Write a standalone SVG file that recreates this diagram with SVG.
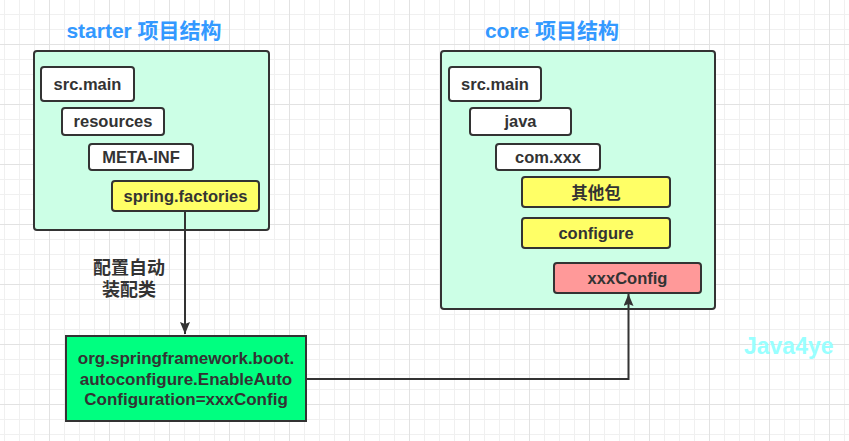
<svg xmlns="http://www.w3.org/2000/svg" width="849" height="441" viewBox="0 0 849 441">
<style>
.cont{fill:#ccffe6;stroke:#333;stroke-width:2}
.box{fill:#fff;stroke:#333;stroke-width:2}
.yel{fill:#ffff66;stroke:#333;stroke-width:2}
.pink{fill:#ff9999;stroke:#333;stroke-width:2}
.grn{fill:#00ff80;stroke:#333;stroke-width:2}
text{font-family:"Liberation Sans","Noto Sans CJK SC",sans-serif;font-weight:bold;fill:#333;text-anchor:middle}
.t{font-size:16.5px}
.g{font-size:17px}
.title{font-size:21px;fill:#3399ff}
.lbl{font-size:18px}
.wm{font-size:23px;fill:#99ffff;text-anchor:start}
.edge{fill:none;stroke:#333;stroke-width:2}
</style>
<defs>
<pattern id="minor" patternUnits="userSpaceOnUse" x="4" y="14" width="15" height="15">
<path d="M0.5,0V15M0,0.5H15" stroke="#f0f0f0" stroke-width="1" fill="none"/>
</pattern>
<pattern id="major" patternUnits="userSpaceOnUse" x="49" y="44" width="60" height="60">
<path d="M0.5,0V60M0,0.5H60" stroke="#e2e2e2" stroke-width="1" fill="none"/>
</pattern>
<marker id="arr" markerUnits="userSpaceOnUse" viewBox="0 0 12 10" refX="12" refY="5" markerWidth="12" markerHeight="10" orient="auto">
<path d="M0,0L12,5L0,10L2,5z" fill="#333"/>
</marker>
</defs>
<rect width="849" height="441" fill="#fff"/>
<rect width="849" height="441" fill="url(#minor)"/>
<rect width="849" height="441" fill="url(#major)"/>

<g id="starter">
<text class="title" x="144" y="38">starter 项目结构</text>
<rect class="cont" x="34" y="51" width="235" height="179" rx="3"/>
</g>
<g id="s-srcmain"><rect class="box" x="41" y="67" width="93" height="34" rx="3"/><text class="t" x="87.5" y="90">src.main</text></g>
<g id="s-resources"><rect class="box" x="62" y="108" width="102" height="27" rx="3"/><text class="t" x="113" y="127">resources</text></g>
<g id="s-metainf"><rect class="box" x="89" y="144" width="104" height="26" rx="3"/><text class="t" x="141" y="162.5">META-INF</text></g>
<g id="s-factories"><rect class="yel" x="112" y="181" width="147" height="30" rx="3"/><text class="t" x="185.5" y="201.5">spring.factories</text></g>

<g id="core">
<text class="title" x="552" y="38">core 项目结构</text>
<rect class="cont" x="441" y="51" width="274" height="258" rx="3"/>
</g>
<g id="c-srcmain"><rect class="box" x="449" y="67" width="92" height="34" rx="3"/><text class="t" x="495" y="90">src.main</text></g>
<g id="c-java"><rect class="box" x="470" y="108" width="101" height="27" rx="3"/><text class="t" x="520.5" y="127">java</text></g>
<g id="c-comxxx"><rect class="box" x="496" y="144" width="104" height="26" rx="3"/><text class="t" x="548" y="162.5">com.xxx</text></g>
<g id="c-other"><rect class="yel" x="522" y="177" width="148" height="30" rx="3"/><text class="t" x="596" y="198.5">其他包</text></g>
<g id="c-configure"><rect class="yel" x="522" y="218" width="148" height="30" rx="3"/><text class="t" x="596" y="239">configure</text></g>
<g id="c-xxxconfig"><rect class="pink" x="554" y="263" width="147" height="30" rx="3"/><text class="t" x="627.5" y="284">xxxConfig</text></g>

<g id="enableauto">
<rect class="grn" x="66" y="336" width="240" height="85"/>
<text class="g" x="186" y="364">org.springframework.boot.</text>
<text class="g" x="186" y="385">autoconfigure.EnableAuto</text>
<text class="g" x="186" y="405">Configuration=xxxConfig</text>
</g>

<g id="connectors">
<path class="edge" d="M185,211V334" marker-end="url(#arr)"/>
<path class="edge" d="M306,379H628.5V294" marker-end="url(#arr)"/>
<text class="lbl" x="129" y="274">配置自动</text>
<text class="lbl" x="129" y="296">装配类</text>
</g>

<text class="wm" x="744" y="354">Java4ye</text>
</svg>
